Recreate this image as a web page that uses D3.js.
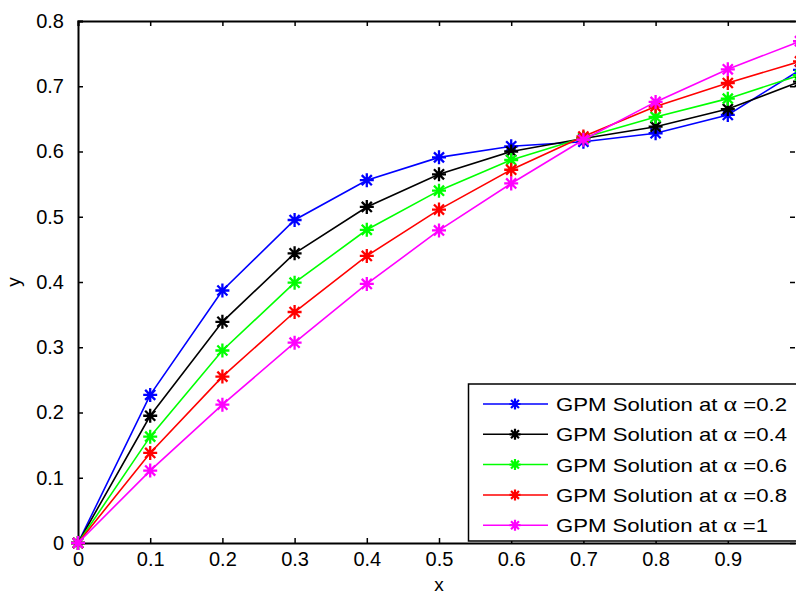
<!DOCTYPE html>
<html>
<head>
<meta charset="utf-8">
<script src="https://cdn.jsdelivr.net/npm/d3@7"></script>
<style>
  body { margin: 0; background: #fff; }
  text { font-family: "Liberation Sans", Arial, sans-serif; }
</style>
</head>
<body>
<div id="chart"></div>
<script>
var xs = [0, 0.1, 0.2, 0.3, 0.4, 0.5, 0.6, 0.7, 0.8, 0.9, 1];
var alpha02 = [0, 0.227, 0.387, 0.495, 0.556, 0.591, 0.608, 0.615, 0.628, 0.656, 0.725];
var alpha04 = [0, 0.195, 0.339, 0.444, 0.515, 0.565, 0.600, 0.620, 0.638, 0.665, 0.707];
var alpha06 = [0, 0.163, 0.295, 0.399, 0.480, 0.540, 0.587, 0.621, 0.653, 0.681, 0.717];
var alpha08 = [0, 0.138, 0.255, 0.354, 0.440, 0.511, 0.572, 0.623, 0.669, 0.705, 0.738];
var alpha1 = [0, 0.111, 0.212, 0.307, 0.397, 0.479, 0.551, 0.618, 0.676, 0.726, 0.769];
var labels = ["=0.2", "=0.4", "=0.6", "=0.8", "=1"];
var colors = ["#0000ff", "#000000", "#00ff00", "#ff0000", "#ff00ff"];
var xTicks = [0, 0.1, 0.2, 0.3, 0.4, 0.5, 0.6, 0.7, 0.8, 0.9];
var yTicks = [0, 0.1, 0.2, 0.3, 0.4, 0.5, 0.6, 0.7, 0.8];

var series = [alpha02, alpha04, alpha06, alpha08, alpha1];

var _width = 796, _height = 594;
var mLeft = 78, mTop = 21, mRight = 800, mBottom = 543;

var svg = d3.select("#chart").append("svg")
    .attr("width", _width)
    .attr("height", _height);

var x = d3.scaleLinear().domain([0, 1]).range([mLeft, mRight]);
var y = d3.scaleLinear().domain([0, 0.8]).range([mBottom, mTop]);

// axes with inward ticks
var fmt = function(d) { return d === 0 ? "0" : d3.format(".1f")(d); };

var xAxis = svg.append("g")
    .attr("transform", "translate(0," + mBottom + ")")
    .call(d3.axisBottom(x).tickValues(xTicks).tickSize(-5).tickPadding(9).tickFormat(fmt));
var yAxis = svg.append("g")
    .attr("transform", "translate(" + mLeft + ",0)")
    .call(d3.axisLeft(y).tickValues(yTicks).tickSize(-5).tickPadding(14).tickFormat(fmt));
var xTop = svg.append("g")
    .attr("transform", "translate(0," + mTop + ")")
    .call(d3.axisTop(x).tickValues(xTicks.concat([1])).tickSize(-5).tickFormat(""));
var yRight = svg.append("g")
    .attr("transform", "translate(" + (mRight - 5) + ",0)")
    .call(d3.axisRight(y).tickValues(yTicks).tickSize(-5).tickFormat(""));
yRight.select(".domain").remove();

[xAxis, yAxis, xTop].forEach(function(g) {
    g.select(".domain").attr("stroke", "#000").attr("stroke-width", 2);
    g.selectAll(".tick line").attr("stroke", "#000").attr("stroke-width", 1.5);
    g.selectAll(".tick text").attr("fill", "#000").style("font-size", "20px");
});
yRight.selectAll(".tick line").attr("stroke", "#000").attr("stroke-width", 1.5);

// axis labels
svg.append("text")
    .attr("x", x(0.5))
    .attr("y", 591)
    .attr("text-anchor", "middle")
    .style("font-size", "19px")
    .text("x");
svg.append("text")
    .attr("transform", "translate(20," + y(0.4) + ") rotate(-90)")
    .attr("text-anchor", "middle")
    .style("font-size", "19px")
    .text("y");

function star(g, cx, cy, r, color, w) {
    var d = r * 0.72;
    var p = "M" + (cx - r) + "," + cy + "L" + (cx + r) + "," + cy +
            "M" + cx + "," + (cy - r) + "L" + cx + "," + (cy + r) +
            "M" + (cx - d) + "," + (cy - d) + "L" + (cx + d) + "," + (cy + d) +
            "M" + (cx - d) + "," + (cy + d) + "L" + (cx + d) + "," + (cy - d);
    g.append("path").attr("d", p)
        .attr("stroke", color)
        .attr("stroke-width", w)
        .attr("fill", "none");
}

var line = d3.line()
    .x(function(d, i) { return x(xs[i]); })
    .y(function(d) { return y(d); });

var plot = svg.append("g");
series.forEach(function(s, k) {
    plot.append("path")
        .datum(s)
        .attr("d", line)
        .attr("fill", "none")
        .attr("stroke", colors[k])
        .attr("stroke-width", 1.6);
    s.forEach(function(v, i) {
        star(plot, x(xs[i]), y(v), 7, colors[k], 2.3);
    });
});

// legend
var lg = svg.append("g");
lg.append("rect")
    .attr("x", 468.5)
    .attr("y", 384)
    .attr("width", 340)
    .attr("height", 157)
    .attr("fill", "#fff")
    .attr("stroke", "#000")
    .attr("stroke-width", 1.5);

labels.forEach(function(lab, k) {
    var ly = 404 + k * 30.3;
    lg.append("line")
        .attr("x1", 483).attr("x2", 548)
        .attr("y1", ly).attr("y2", ly)
        .attr("stroke", colors[k])
        .attr("stroke-width", 1.5);
    star(lg, 515, ly, 5.5, colors[k], 2.2);
    var t = lg.append("text")
        .attr("x", 556)
        .attr("y", ly + 7)
        .style("font-size", "19px")
        .attr("textLength", k < 4 ? 231 : 212)
        .attr("lengthAdjust", "spacingAndGlyphs")
        .attr("fill", "#000");
    t.append("tspan").text("GPM Solution at ");
    t.append("tspan").style("font-family", "'Liberation Serif', 'Times New Roman', serif")
        .style("font-size", "22px").text("\u03b1");
    t.append("tspan").text(" " + lab);
});
</script>
</body>
</html>
